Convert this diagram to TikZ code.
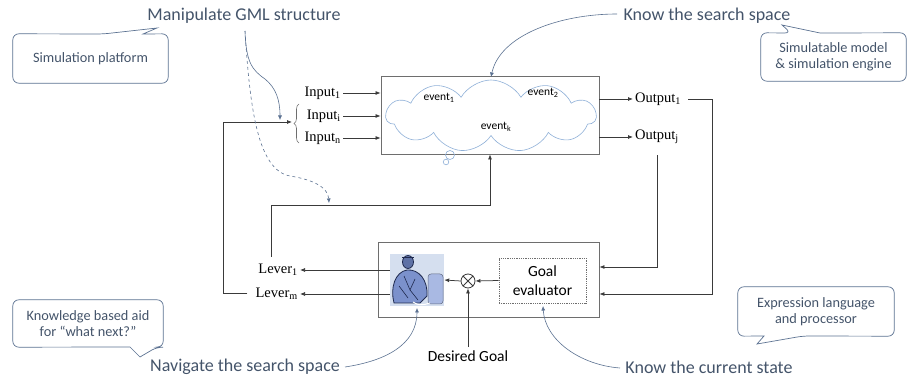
\documentclass[tikz,border=0pt]{standalone}
\usepackage{fontspec}
\setmainfont{Liberation Serif}
\newfontfamily\calfont{Carlito}
\usetikzlibrary{arrows.meta,calc,shapes.symbols,decorations.pathreplacing}
\definecolor{note}{HTML}{44546A}
\definecolor{noteline}{HTML}{5B7191}
\definecolor{cloudblue}{HTML}{8FB0D8}
\definecolor{frame}{HTML}{6E6E6E}
\definecolor{wire}{HTML}{3A3A3A}
\definecolor{personbg}{HTML}{D5DFEF}
\definecolor{suit}{HTML}{7B91CC}
\definecolor{navy}{HTML}{1F2A4F}
\definecolor{screen}{HTML}{A9B9E3}
\begin{document}
\begin{tikzpicture}[x=1pt,y=-1pt,
  wire/.style={draw=wire, line width=0.75pt},
  arr/.style={wire, -{Latex[length=5pt,width=4pt]}},
  frame/.style={draw=frame, line width=0.85pt, fill=white},
  serif/.style={font=\fontsize{14.5}{16}\selectfont, inner sep=2pt},
  notetext/.style={font=\calfont\fontsize{18}{21}\selectfont, text=note, inner sep=1pt},
  notearrow/.style={draw=noteline, line width=0.6pt, -{Latex[length=4.5pt,width=4pt]}},
  callout/.style={draw=noteline, line width=0.7pt},
  callouttext/.style={font=\calfont\fontsize{14.3}{16.5}\selectfont, text=note, align=center, inner sep=0},
  evt/.style={font=\calfont\fontsize{11.5}{13}\selectfont}
]
\useasboundingbox (0,0) rectangle (913,379);

% ---------- simulation block with the search-space cloud ----------
\node[frame, minimum width=218pt, minimum height=78pt, inner sep=0] (sim) at (490,115) {};
\node[cloud, cloud puffs=11, cloud puff arc=120, aspect=2.9, draw=cloudblue, line width=0.6pt,
      minimum width=210pt, minimum height=72pt, inner sep=0] (space) at (491,116) {};
\draw[cloudblue, line width=0.6pt] (450,155) circle (4.5) (446,162) circle (2.8);
\node[evt] (e1) at (439,98) {event\textsubscript{1}};
\node[evt] (e2) at (543,93) {event\textsubscript{2}};
\node[evt] (ek) at (496,127) {event\textsubscript{k}};

% ---------- inputs ----------
\node[serif, anchor=east] (in1) at (343,93) {Input\textsubscript{1}};
\node[serif, anchor=east] (ini) at (343,116) {Input\textsubscript{i}};
\node[serif, anchor=east] (inn) at (343,138) {Input\textsubscript{n}};
\draw[arr] (in1.east) -- (in1.east -| sim.west);
\draw[arr] (ini.east) -- (ini.east -| sim.west);
\draw[arr] (inn.east) -- (inn.east -| sim.west);
\coordinate (brb) at (299,143);
\coordinate (brt) at (299,104);
\coordinate (brtip) at (292,122);
\draw[frame, fill=none, line width=0.6pt, decorate, decoration={brace, amplitude=5pt}] (brb) -- (brt);

% ---------- outputs ----------
\node[serif, anchor=west] (out1) at (633,99) {Output\textsubscript{1}};
\node[serif, anchor=west] (outj) at (633,137) {Output\textsubscript{j}};
\draw[arr] (out1.west -| sim.east) -- (out1.west);
\draw[arr] (outj.west -| sim.east) -- (outj.west);

% ---------- control block ----------
\node[frame, minimum width=221pt, minimum height=75pt, inner sep=0] (ctl) at (488.5,279.5) {};
\node[fill=personbg, inner sep=0, minimum width=54pt, minimum height=52pt] (person) at (417,280) {};
% operator at the desk
\filldraw[fill=suit, draw=navy, line width=0.8pt]
  (394,303) .. controls (390,288) and (395,272) .. (407,270)
  .. controls (419,269) and (428,280) .. (427,296) -- (420,303) -- cycle;
\draw[navy, line width=0.6pt] (404,276) -- (410,290) -- (415,279) (399,286) -- (408,298) (410,290) -- (418,300);
\filldraw[fill=suit!70!navy, draw=navy, line width=0.8pt] (408,262) ellipse (5.5 and 6.5);
\draw[navy, line width=1pt] (402,258) -- (414,258);
\filldraw[fill=screen, draw=navy!70, line width=0.5pt, rounded corners=3] (428,274) rectangle (443,304);
\draw[white, line width=1pt] (413,302) .. controls (418,306) and (424,305) .. (430,303);

\node[draw=wire, circle, line width=0.8pt, minimum size=14pt, inner sep=0] (cmp) at (468,281) {};
\draw[wire, line width=0.8pt] (cmp.north west) -- (cmp.south east) (cmp.north east) -- (cmp.south west);
\node[draw=frame, densely dotted, line width=0.8pt, minimum width=87pt, minimum height=45pt,
      align=center, font=\calfont\fontsize{15.5}{19}\selectfont] (ge) at (542.5,280.5) {Goal\\evaluator};
\draw[arr] (ge.west) -- (cmp.east);
\draw[arr] (cmp.west) -- (person.east);
\node[font=\calfont\fontsize{15.5}{17}\selectfont] (dg) at (468,356) {Desired Goal};
\draw[arr] (dg.north) -- (cmp.south);

% ---------- levers ----------
\node[serif, anchor=east] (lev1) at (300,270) {Lever\textsubscript{1}};
\node[serif, anchor=east] (levm) at (300,294) {Lever\textsubscript{m}};
\draw[arr] (lev1.east -| person.west) -- (lev1.east);
\draw[arr] (levm.east -| person.west) -- (levm.east);

% ---------- feedback loops ----------
\draw[arr] ($(levm.west)+(-6,-1)$) -| (223,122) -- (brtip);
\coordinate (l1) at (271,257);
\draw[arr] (l1) |- (sim.south |- 0,205) -- (sim.south);
\draw[arr] ($(out1.east)+(5,0)$) -| (712,294) -- (ctl.east |- 0,294);
\draw[arr] ($(outj.south)+(0,9)$) |- (ctl.east |- 0,267);

% ---------- annotations ----------
\node[notetext] (mgml) at (244,16) {Manipulate GML structure};
\node[notetext] (kss) at (707,16) {Know the search space};
\node[notetext] (nss) at (245,367) {Navigate the search space};
\node[notetext] (kcs) at (709,367) {Know the current state};

\coordinate (m0) at (245,31);
\coordinate (m1) at (280,120);
\coordinate (m2) at (329,203);
\draw[notearrow] (m0) .. controls (246,62) and (252,70) .. (265,79) .. controls (276,88) and (280,100) .. (m1);
\draw[notearrow, dashed] (m0) .. controls (250,110) and (258,170) .. (290,176) .. controls (315,180) and (328,188) .. (m2);
\coordinate (k0) at (617,14);
\coordinate (k1) at (491,77);
\draw[notearrow] (k0) .. controls (560,14) and (500,35) .. (k1);
\coordinate (n0) at (345,367);
\coordinate (n1) at (417,308);
\draw[notearrow] (n0) .. controls (385,361) and (417,345) .. (n1);
\coordinate (c0) at (620,368);
\coordinate (c1) at (543,306);
\draw[notearrow] (c0) .. controls (580,365) and (545,340) .. (c1);

% ---------- callouts ----------
\node[callouttext, minimum width=155pt, minimum height=49pt] (cp) at (90.5,58.5) {Simulation platform};
\draw[callout] (cp.west) [rounded corners=6] -- (cp.north west) -- (103,34) [sharp corners] -- (157,28)
  -- (143,34) [rounded corners=6] -- (cp.north east) -- (cp.south east) -- (cp.south west) -- cycle;

\node[callouttext, minimum width=145pt, minimum height=48pt] (cm) at (833.5,57) {Simulatable model\\\& simulation engine};
\draw[callout] (cm.west) [rounded corners=6] -- (cm.north west) -- (791,33) [sharp corners] -- (782,25)
  -- (820,33) [rounded corners=6] -- (cm.north east) -- (cm.south east) -- (cm.south west) -- cycle;

\node[callouttext, minimum width=150pt, minimum height=47pt] (ck) at (88,323.5) {Knowledge based aid\\for “what next?”};
\draw[callout] (ck.west) [rounded corners=6] -- (ck.north west) -- (ck.north east) -- (ck.south east)
  -- (157,347) [sharp corners] -- (140,357) -- (130,347) [rounded corners=6] -- (ck.south west) -- cycle;

\node[callouttext, minimum width=156pt, minimum height=49pt] (ce) at (816,311.5) {Expression language\\and processor};
\draw[callout] (ce.west) [rounded corners=6] -- (ce.north west) -- (ce.north east) -- (ce.south east)
  -- (803,336) [sharp corners] -- (757,344) -- (764,336) [rounded corners=6] -- (ce.south west) -- cycle;
\end{tikzpicture}
\end{document}
